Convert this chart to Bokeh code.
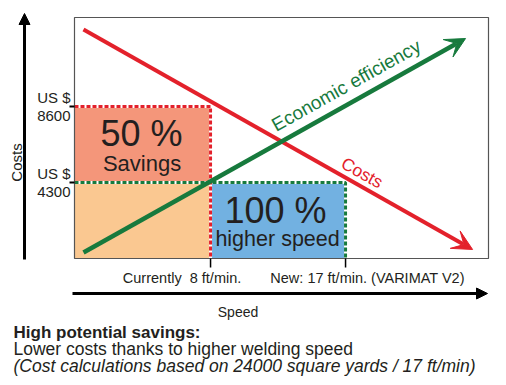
from math import atan2, pi, sin, cos
from bokeh.plotting import figure
from bokeh.models import Range1d, Label, Arrow, VeeHead, NormalHead
from bokeh.embed import file_html
from bokeh.resources import INLINE

# ---------------- data ----------------
speeds = [8, 17]                          # ft/min (current, new)
speed_labels = ["Currently\u00a0 8 ft/min.", "New: 17 ft/min. (VARIMAT V2)"]
costs = [8600, 4300]                      # US $
cost_tick_labels = ["US $\n8600", "US $\n4300"]
box_titles = ["50 %", "100 %"]
box_subtitles = ["Savings", "higher speed"]
cost_trend_x = [-0.47, 25.47]
cost_trend_y = [12960, 510]
eff_trend_x = [-0.47, 25.0]
eff_trend_y = [340, 12450]
title_lines = ["High potential savings:",
               "Lower costs thanks to higher welding speed",
               "(Cost calculations based on 24000 square yards / 17 ft/min)"]

# plot-box limits in data units
X_MIN, X_MAX = -1.07, 26.53
Y_MIN, Y_MAX = 0, 13640

# ---------------- layout (canvas pixels) ----------------
W, H = 506, 385
FL, FR, FT, FB = 74, 488, 17, 258        # plot box on the canvas
SX = (X_MAX - X_MIN) / (FR - FL)          # data per pixel
SY = (Y_MAX - Y_MIN) / (FB - FT)
BASE_FIX = 0.25                           # baseline correction (fraction of font size)


def px_x(px):
    return X_MIN + (px - FL) * SX


def px_y(py):
    return Y_MIN + (FB - py) * SY


def screen_angle(xs, ys):
    dx = (xs[1] - xs[0]) / SX
    dy = (ys[1] - ys[0]) / SY
    return atan2(dy, dx)


RED = "#E3212B"
GREEN = "#177A3D"
INK = "#231F20"
FONT = "Liberation Sans"

p = figure(width=W, height=H,
           x_range=Range1d(px_x(0), px_x(W)), y_range=Range1d(px_y(H), px_y(0)),
           x_axis_type=None, y_axis_type=None, min_border=0,
           output_backend="svg", toolbar_location=None)
p.outline_line_color = None
p.background_fill_color = "white"
p.border_fill_color = "white"

# boxes
p.quad(left=[X_MIN], right=[speeds[0]], bottom=[costs[1]], top=[costs[0]],
       fill_color="#F4967A", line_color=None)
p.quad(left=[X_MIN], right=[speeds[0]], bottom=[Y_MIN], top=[costs[1]],
       fill_color="#FAC891", line_color=None)
p.quad(left=[speeds[0]], right=[speeds[1]], bottom=[Y_MIN], top=[costs[1]],
       fill_color="#72B1E1", line_color=None)

# dotted guides
gx = [X_MIN, speeds[1], speeds[1]]
gy = [costs[1], costs[1], Y_MIN]
rx = [X_MIN, speeds[0], speeds[0]]
ry = [costs[0], costs[0], Y_MIN]
p.line(gx, gy, line_color="white", line_width=3)
p.line(gx, gy, line_color=GREEN, line_width=3, line_dash="4 2")
p.line(rx, ry, line_color="white", line_width=3)
p.line(rx, ry, line_color=RED, line_width=3, line_dash="4 2")

# plot box outline
p.quad(left=[X_MIN], right=[X_MAX], bottom=[Y_MIN], top=[Y_MAX],
       fill_color=None, line_color="#555555", line_width=1.2)

# ticks
p.segment(x0=speeds, y0=[Y_MIN] * len(speeds), x1=speeds,
          y1=[Y_MIN - 9 * SY] * len(speeds), line_color="black", line_width=1.5)
p.segment(x0=[X_MIN - 5 * SX] * len(costs), y0=costs, x1=[X_MIN] * len(costs),
          y1=costs, line_color="black", line_width=2)

# trend arrows
p.add_layout(Arrow(end=VeeHead(size=20, fill_color=RED, line_color=RED),
                   x_start=cost_trend_x[0], y_start=cost_trend_y[0],
                   x_end=cost_trend_x[1], y_end=cost_trend_y[1],
                   line_color=RED, line_width=4))
p.add_layout(Arrow(end=VeeHead(size=20, fill_color=GREEN, line_color=GREEN),
                   x_start=eff_trend_x[0], y_start=eff_trend_y[0],
                   x_end=eff_trend_x[1], y_end=eff_trend_y[1],
                   line_color=GREEN, line_width=4.5))

# axis arrows
p.add_layout(Arrow(end=NormalHead(size=11, fill_color="black", line_color="black"),
                   x_start=px_x(24), y_start=px_y(259), x_end=px_x(24), y_end=px_y(13),
                   line_color="black", line_width=3))
p.add_layout(Arrow(end=NormalHead(size=11, fill_color="black", line_color="black"),
                   x_start=px_x(72), y_start=px_y(293), x_end=px_x(487), y_end=px_y(293),
                   line_color="black", line_width=3))


def lab(x, y, text, size, align="center", color=INK, style="normal", angle=0, x_offset=0):
    d = BASE_FIX * size
    x = x - d * sin(angle) * SX
    y = y + d * cos(angle) * SY
    p.add_layout(Label(x=x, y=y, text=text, text_font=FONT, text_font_size=f"{size}px",
                       text_align=align, text_baseline="alphabetic", text_color=color,
                       text_font_style=style, angle=angle, x_offset=x_offset))


# cost tick labels (two lines each, right-aligned left of the tick)
for c, t in zip(costs, cost_tick_labels):
    top, bottom = t.split("\n")
    lab(X_MIN - 4 * SX, c + 5 * SY, top, 15, align="right")
    lab(X_MIN - 4 * SX, c - 13 * SY, bottom, 15, align="right")

# speed labels
lab(speeds[0], px_y(281), speed_labels[0], 14.5, x_offset=-28.5)
lab(speeds[1], px_y(281), speed_labels[1], 14.5, x_offset=22)
lab(px_x(237.5), px_y(315), "Speed", 14)
lab(px_x(20), px_y(162), "Costs", 15, angle=pi / 2)

# box texts
b1 = (X_MIN + speeds[0]) / 2
b2 = (speeds[0] + speeds[1]) / 2
lab(b1, px_y(142), box_titles[0], 36, x_offset=-1)
lab(b1, px_y(168), box_subtitles[0], 22, x_offset=-0.5)
lab(b2, px_y(218.5), box_titles[1], 36, x_offset=-2.5)
lab(b2, px_y(244), box_subtitles[1], 21.5, x_offset=-0.5)

# trend labels
lab(px_x(275), px_y(130), "Economic efficiency", 19, align="left", color=GREEN,
    angle=screen_angle(eff_trend_x, eff_trend_y))
lab(px_x(340), px_y(165), "Costs", 17.5, align="left", color=RED,
    angle=screen_angle(cost_trend_x, cost_trend_y))

# caption
lab(px_x(13), px_y(336), title_lines[0], 17, align="left", style="bold")
lab(px_x(13), px_y(353), title_lines[1], 17.5, align="left")
lab(px_x(13), px_y(370), title_lines[2], 17.5, align="left", style="italic")

open("out.html", "w").write(file_html(p, INLINE))
